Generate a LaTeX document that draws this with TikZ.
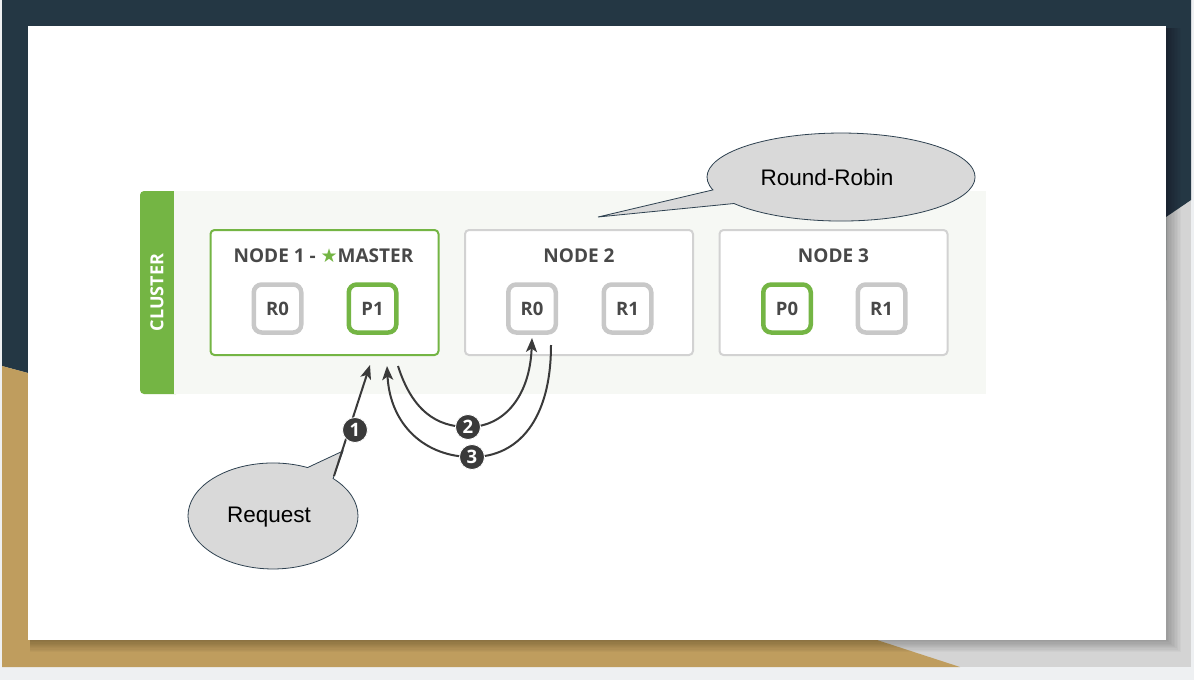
\documentclass[tikz,border=0pt]{standalone}
\usepackage{fontspec}
\setmainfont{Open Sans}
\newfontfamily\arialf{Liberation Sans}
\newfontfamily\dejavuf{DejaVu Sans}
\usetikzlibrary{arrows.meta}
\definecolor{navy}{HTML}{243744}
\definecolor{gold}{HTML}{BF9D5E}
\definecolor{sidegray}{HTML}{D4D4D4}
\definecolor{outer}{HTML}{EEF0F2}
\definecolor{clusterbg}{HTML}{F6F8F4}
\definecolor{esgreen}{HTML}{74B544}
\definecolor{boxgray}{HTML}{D2D2D2}
\definecolor{shardgray}{HTML}{C8C8C8}
\definecolor{txt}{HTML}{484848}
\definecolor{arrowc}{HTML}{3A3A3A}
\definecolor{callfill}{HTML}{D9D9D9}
\definecolor{callline}{HTML}{2E4150}
\begin{document}
\begin{tikzpicture}[x=1pt,y=-1pt,
  hostbox/.style={draw=boxgray, line width=2pt, rounded corners=4pt, fill=white,
    minimum width=228pt, minimum height=125pt, inner sep=0pt},
  masterbox/.style={hostbox, draw=esgreen},
  hosttitle/.style={text=txt, font=\bfseries\fontsize{19}{19}\selectfont, inner sep=0pt},
  shard/.style={draw=shardgray, line width=4.5pt, rounded corners=8pt, fill=white,
    minimum width=47.5pt, minimum height=48pt, inner sep=0pt, text=txt,
    font=\bfseries\fontsize{18.5}{18.5}\selectfont},
  primary/.style={shard, draw=esgreen},
  conn/.style={draw=arrowc, line width=2pt, -{Stealth[length=14pt,width=11pt,inset=3.5pt]}},
  numcirc/.style={circle, fill=arrowc, draw=white, line width=0.8pt, minimum size=25pt,
    inner sep=0pt, text=white, font=\bfseries\fontsize{18.5}{18.5}\selectfont},
  callout/.style={fill=callfill, draw=callline, line width=0.8pt},
  calltext/.style={font=\arialf\fontsize{22.5}{22.5}\selectfont, text=black, inner sep=0pt}
]
\useasboundingbox (0,0) rectangle (1194,680);
% ---------- slide background ----------
\fill[outer] (0,0) rectangle (1194,680);
\fill[sidegray] (2,0) rectangle (1191,667);
\fill[navy] (2,0) -- (1191,0) -- (1191,200) -- (1166,217) -- (1166,300) -- (28,300) -- (28,373) -- (2,366) -- cycle;
\fill[gold] (2,366) -- (28,373) -- (28,640) -- (877,640) -- (960,667) -- (2,667) -- cycle;
\foreach \i in {1,...,10}
  \fill[black, opacity=0.028] (30,28) rectangle (1166+1.5*\i,640+1.2*\i);
\fill[white] (28,26) rectangle (1166,640);
% ---------- cluster ----------
\fill[esgreen, rounded corners=4pt] (140,191) rectangle (180,394);
\fill[clusterbg] (174,191) rectangle (986,394);
\node[rotate=90, text=white, font=\bfseries\fontsize{18}{18}\selectfont, inner sep=0pt] (clusterlbl) at (157,292.5) {CLUSTER};
% ---------- hosts ----------
\node[masterbox] (node1) at (324.5,292.5) {};
\node[hostbox] (node2) at (579,292.5) {};
\node[hostbox] (node3) at (833.5,292.5) {};
\node[hosttitle] (t1) at (323.5,256) {NODE 1 - {\dejavuf\fontsize{19}{19}\selectfont\color{esgreen}★}MASTER};
\node[hosttitle] (t2) at (579,256) {NODE 2};
\node[hosttitle] (t3) at (833.5,256) {NODE 3};
% ---------- shards ----------
\node[shard]   (n1r0) at (277.5,308.5) {R0};
\node[primary] (n1p1) at (372.5,308.5) {P1};
\node[shard]   (n2r0) at (532,308.5) {R0};
\node[shard]   (n2r1) at (627.5,308.5) {R1};
\node[primary] (n3p0) at (787,308.5) {P0};
\node[shard]   (n3r1) at (881.5,308.5) {R1};
% ---------- callouts ----------
\draw[callout] (712.9,189.9) arc[start angle=163, end angle=503, x radius=134, y radius=44] -- (598,217) -- cycle;
\node[calltext] (rr) at (827,177) {Round-Robin};
\draw[callout] (333.1,478.5) arc[start angle=315, end angle=654, x radius=85, y radius=53] -- (343,451) -- cycle;
\node[calltext] (req) at (269,517) {Request};
% ---------- connectors ----------
\coordinate (a1s) at (334,476);
\coordinate (a1e) at (370,365);
\coordinate (a2s) at (398,366);
\coordinate (a2e) at (532,338);
\coordinate (a3s) at (551,345);
\coordinate (a3e) at (387,366);
\node[numcirc] (c1) at (355,430) {};
\node[numcirc] (c2) at (468,427) {};
\node[numcirc] (c3) at (472,457) {};
\draw[conn] (a1s) -- (a1e);
\draw[conn] (a2s) .. controls (412,410) and (436,427) .. (c2.center) .. controls (505,427) and (530,395) .. (a2e);
\draw[conn] (a3s) .. controls (551,420) and (518,457) .. (c3.center) .. controls (425,457) and (390,425) .. (a3e);
\node[numcirc] at (c1) {1};
\node[numcirc] at (c2) {2};
\node[numcirc] at (c3) {3};
\end{tikzpicture}
\end{document}
